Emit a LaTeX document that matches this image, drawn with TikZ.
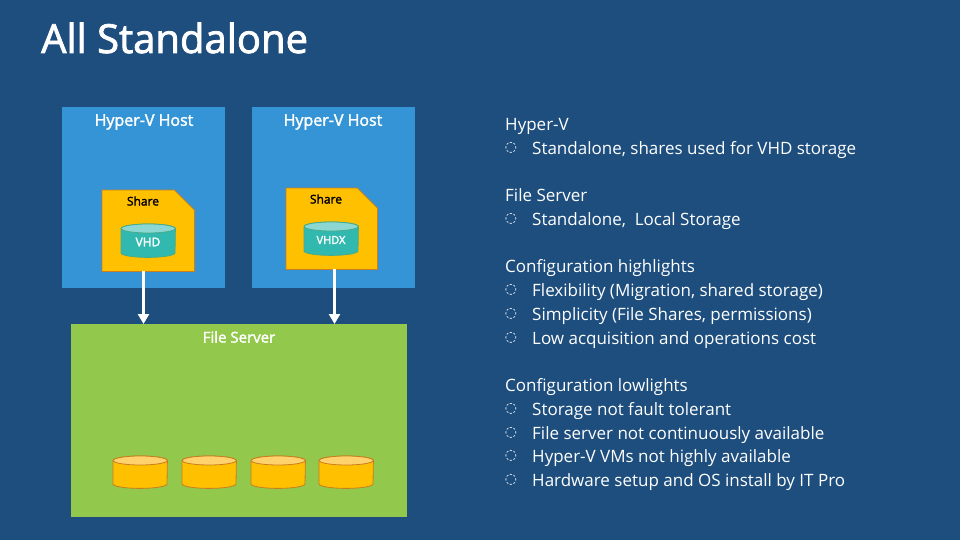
\documentclass[tikz,border=0pt]{standalone}
\usepackage{fontspec}
\setmainfont{Open Sans}
\newfontfamily\bulletfont{DejaVu Sans}
\newfontfamily\headfont[FakeBold=2]{Open Sans}
\usetikzlibrary{arrows.meta}
\definecolor{slide}{RGB}{30,78,126}
\definecolor{hostblue}{RGB}{52,148,214}
\definecolor{servergreen}{RGB}{146,200,75}
\definecolor{shareyellow}{RGB}{255,192,0}
\definecolor{shareedge}{RGB}{200,125,30}
\definecolor{vhdteal}{RGB}{50,185,175}
\definecolor{vhdedge}{RGB}{70,170,140}
\definecolor{vhdtop}{RGB}{140,215,210}
\definecolor{disktop}{RGB}{255,210,110}
\tikzset{box/.style={inner sep=0pt, anchor=north west},
  head/.style={text=white, inner sep=0pt, font=\headfont\fontsize{16}{16}\selectfont},
  sharetext/.style={inner sep=0pt, font=\headfont\fontsize{12}{12}\selectfont},
  vhdtext/.style={inner sep=0pt, text=white, font=\headfont\fontsize{12}{12}\selectfont},
  flow/.style={draw=white, line width=3pt, -{Triangle[width=11pt, length=10pt]}},
  line/.style={anchor=west, inner sep=0pt, yshift=-2pt, text=white, font=\fontsize{17}{17}\selectfont},
  dotmark/.style={anchor=center, inner sep=0pt, text=white, font=\bulletfont\fontsize{14}{14}\selectfont}}
% folded sheet and disk outlines, drawn on the anchors of a plain node
\newcommand{\sharefold}[1]{\draw [draw=shareedge, fill=shareyellow, line width=0.8pt]
  (#1.south west) -- (#1.north west) -- ([xshift=-20pt]#1.north east)
  -- ([yshift=-20pt]#1.north east) -- (#1.south east) -- cycle;}
\newcommand{\diskshape}[4]{\draw [draw=#4, fill=#2, line width=0.8pt]
  ([yshift=-4.5pt]#1.north west) -- ([yshift=4.5pt]#1.south west)
  arc [start angle=180, end angle=360, x radius=27pt, y radius=4.5pt]
  -- ([yshift=-4.5pt]#1.north east)
  arc [start angle=0, end angle=180, x radius=27pt, y radius=4.5pt];
  \draw [draw=#4, fill=#3, line width=0.8pt] ([yshift=-4.5pt]#1.north)
  ellipse [x radius=27pt, y radius=4.5pt];}
\begin{document}
\begin{tikzpicture}[x=1pt, y=-1pt]
  \useasboundingbox (0,0) rectangle (960,540);
  \fill[slide] (0,0) rectangle (960,540);
  \node [anchor=west, inner sep=0pt, text=white, font=\headfont\fontsize{40}{40}\selectfont] (title) at (41,38) {All Standalone};

  \node [box, fill=hostblue, minimum width=163pt, minimum height=181pt] (host1) at (62,107) {};
  \node [box, fill=hostblue, minimum width=163pt, minimum height=181pt] (host2) at (252,107) {};
  \node [box, fill=servergreen, minimum width=336pt, minimum height=193pt] (server) at (71,324) {};
  \node [head] (hostlabel1) at (144,122) {Hyper-V Host};
  \node [head] (hostlabel2) at (333,122) {Hyper-V Host};
  \node [head, font=\headfont\fontsize{15}{15}\selectfont] (serverlabel) at (239,337) {File Server};

  \node [box, minimum width=92pt, minimum height=81pt] (share1) at (102,190) {};
  \node [box, minimum width=91pt, minimum height=81pt] (share2) at (286,188) {};
  \sharefold{share1}
  \sharefold{share2}
  \node [sharetext] (sharelabel1) at (143,201) {Share};
  \node [sharetext] (sharelabel2) at (326,199) {Share};

  \node [box, minimum width=54pt, minimum height=33pt] (vhd1) at (121,224) {};
  \node [box, minimum width=54pt, minimum height=33pt] (vhd2) at (304,222) {};
  \diskshape{vhd1}{vhdteal}{vhdtop}{vhdedge}
  \diskshape{vhd2}{vhdteal}{vhdtop}{vhdedge}
  \node [vhdtext] (vhdlabel1) at (148,242) {VHD};
  \node [vhdtext, font=\headfont\fontsize{11}{11}\selectfont] (vhdlabel2) at (331,240) {VHDX};

  \foreach \x [count=\i] in {113,182,251,319} {
    \node [box, minimum width=54pt, minimum height=32pt] (store\i) at (\x,456) {};
    \diskshape{store\i}{shareyellow}{disktop}{shareedge}
  }

  \draw [flow] ([xshift=-4.7pt]share1.south) -- ([xshift=-4.7pt]share1.south |- server.north);
  \draw [flow] ([xshift=2.8pt]share2.south) -- ([xshift=2.8pt]share2.south |- server.north);

  \foreach \y/\t [count=\i] in {124/Hyper-V, 193/File Server, 266/Configuration highlights, 385/Configuration lowlights}
    \node [line] (head\i) at (505,\y) {\t};
  \foreach \y/\t [count=\i] in {148/{Standalone, shares used for VHD storage},
      219/{Standalone,\ \ Local Storage},
      290/{Flexibility (Migration, shared storage)},
      314/{Simplicity (File Shares, permissions)},
      338/{Low acquisition and operations cost},
      409/{Storage not fault tolerant},
      433/{File server not continuously available},
      456/{Hyper-V VMs not highly available},
      480/{Hardware setup and OS install by IT Pro}} {
    \node [line] (item\i) at (532,\y) {\t};
    \node [dotmark] (mark\i) at (511,\y) {◌};
  }
\end{tikzpicture}
\end{document}
